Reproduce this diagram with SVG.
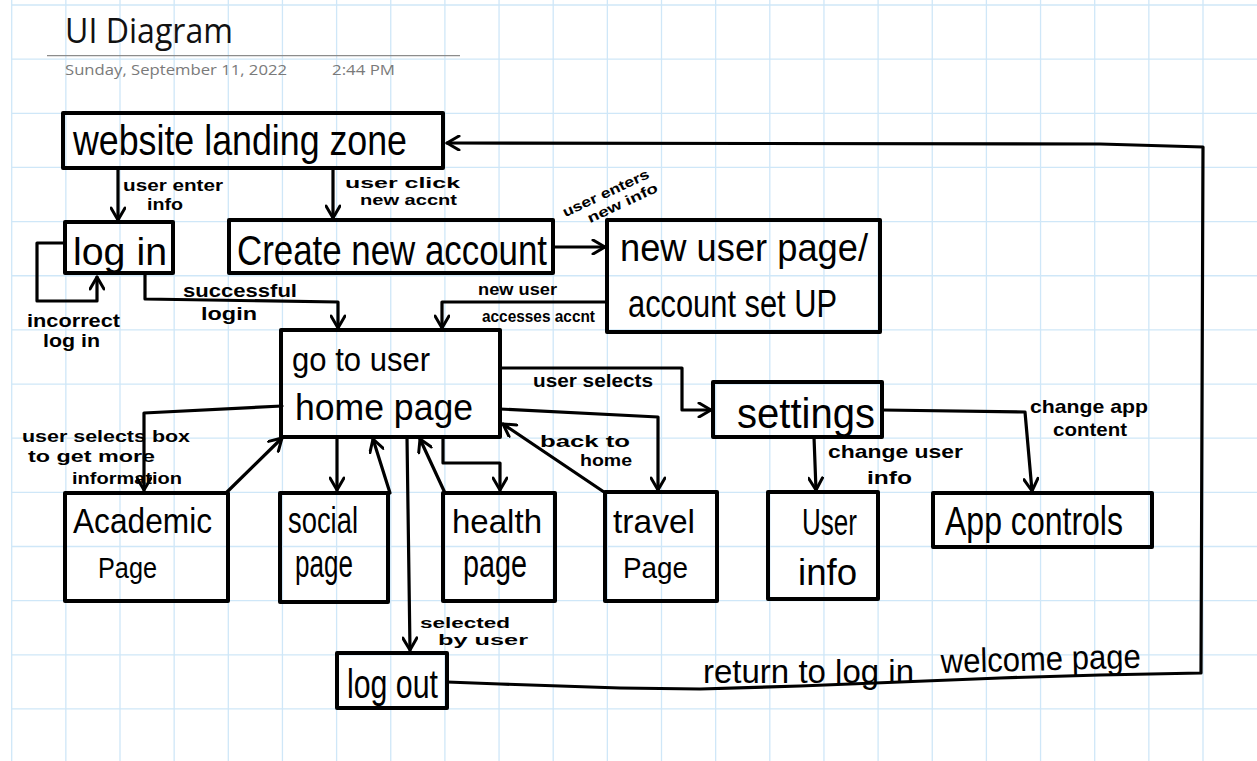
<svg xmlns="http://www.w3.org/2000/svg" width="1257" height="761" viewBox="0 0 1257 761">
<defs>
<style>
.grid{stroke:#cfe7f8;stroke-width:1.3;fill:none}
.box{fill:none;stroke:#000;stroke-width:4;stroke-linejoin:round}
.con{fill:none;stroke:#000;stroke-width:3.2;stroke-linejoin:round;stroke-linecap:round}
.big{font-family:"Liberation Sans",Arial,sans-serif;fill:#000}
.lbl{font-family:"Liberation Sans",Arial,sans-serif;font-weight:bold;fill:#000}
.hdr{font-family:"Open Sans","Liberation Sans",Arial,sans-serif}
</style>
<marker id="arr" viewBox="0 0 16 16" refX="14" refY="8" markerWidth="16" markerHeight="16" markerUnits="userSpaceOnUse" orient="auto">
<path d="M2,1 L14,8 L2,15" fill="none" stroke="#000" stroke-width="3" stroke-linecap="round" stroke-linejoin="round"/>
</marker>
</defs>
<rect width="1257" height="761" fill="#fff"/>
<path class="grid" d="M11.7,0V761M65.85,0V761M120,0V761M174.15,0V761M228.3,0V761M282.45,0V761M336.6,0V761M390.75,0V761M444.9,0V761M499.05,0V761M553.2,0V761M607.35,0V761M661.5,0V761M715.65,0V761M769.8,0V761M823.95,0V761M878.1,0V761M932.25,0V761M986.4,0V761M1040.55,0V761M1094.7,0V761M1148.85,0V761M1203,0V761
M11.7,5H1257M11.7,59.15H1257M11.7,113.3H1257M11.7,167.45H1257M11.7,221.6H1257M11.7,275.75H1257M11.7,329.9H1257M11.7,384.05H1257M11.7,438.2H1257M11.7,492.35H1257M11.7,546.5H1257M11.7,600.65H1257M11.7,654.8H1257M11.7,708.95H1257"/>
<g id="header">
<text class="hdr" x="65" y="43" font-size="34" fill="#111" textLength="168" lengthAdjust="spacingAndGlyphs">UI Diagram</text>
<line x1="47" y1="55.7" x2="460" y2="55.7" stroke="#8c8c8c" stroke-width="1.2"/>
<text class="hdr" x="65" y="75" font-size="14.5" fill="#7a7a7a" textLength="222" lengthAdjust="spacingAndGlyphs">Sunday, September 11, 2022</text>
<text class="hdr" x="332" y="75" font-size="14.5" fill="#7a7a7a" textLength="63" lengthAdjust="spacingAndGlyphs">2:44 PM</text>
</g>
<g id="connectors">
<path class="con" d="M118,168 V220" marker-end="url(#arr)"/>
<path class="con" d="M333,168 V218" marker-end="url(#arr)"/>
<path class="con" d="M553,247 H605" marker-end="url(#arr)"/>
<path class="con" d="M65,243 H37 V301 H97 V277" marker-end="url(#arr)"/>
<path class="con" d="M145,273 V299 L338,302 V328" marker-end="url(#arr)"/>
<path class="con" d="M607,302 H442 V328" marker-end="url(#arr)"/>
<path class="con" d="M500,368 H682 V410 H711" marker-end="url(#arr)"/>
<path class="con" d="M500,409 L658,417 V490" marker-end="url(#arr)"/>
<path class="con" d="M604,492 L503,424" marker-end="url(#arr)"/>
<path class="con" d="M337,437 V490" marker-end="url(#arr)"/>
<path class="con" d="M390,493 L373,439" marker-end="url(#arr)"/>
<path class="con" d="M443,437 V463 H500 V490" marker-end="url(#arr)"/>
<path class="con" d="M445,493 L420,439" marker-end="url(#arr)"/>
<path class="con" d="M407,437 L410,650" marker-end="url(#arr)"/>
<path class="con" d="M282,406 L144,413 V490" marker-end="url(#arr)"/>
<path class="con" d="M227,492 L282,438" marker-end="url(#arr)"/>
<path class="con" d="M814,437 L816,490" marker-end="url(#arr)"/>
<path class="con" d="M882,410 L1025,412 L1032,491" marker-end="url(#arr)"/>
<path class="con" d="M447,682 L500,684 L560,686 L620,688 L700,689 L800,686 L900,682 L1000,678 L1100,675 L1201,673 L1203,147 L1100,144 L447,143" marker-end="url(#arr)"/>
</g>
<g id="labels">
<text class="lbl" x="123" y="191" font-size="16" textLength="100" lengthAdjust="spacingAndGlyphs">user enter</text>
<text class="lbl" x="147" y="210" font-size="16" textLength="36" lengthAdjust="spacingAndGlyphs">info</text>
<text class="lbl" x="345" y="188" font-size="15" textLength="115" lengthAdjust="spacingAndGlyphs">user  click</text>
<text class="lbl" x="360" y="205" font-size="15" textLength="97" lengthAdjust="spacingAndGlyphs">new accnt</text>
<g transform="translate(566,219) rotate(-25)">
<text class="lbl" x="0" y="-2" font-size="14" textLength="94" lengthAdjust="spacingAndGlyphs">user enters</text>
<text class="lbl" x="20" y="14" font-size="14" textLength="76" lengthAdjust="spacingAndGlyphs">new info</text>
</g>
<text class="lbl" x="27" y="327" font-size="17.5" textLength="93" lengthAdjust="spacingAndGlyphs">incorrect</text>
<text class="lbl" x="43" y="347" font-size="17.5" textLength="57" lengthAdjust="spacingAndGlyphs">log in</text>
<text class="lbl" x="183" y="297" font-size="19" textLength="114" lengthAdjust="spacingAndGlyphs">successful</text>
<text class="lbl" x="201" y="320" font-size="19" textLength="56" lengthAdjust="spacingAndGlyphs">login</text>
<text class="lbl" x="478" y="295" font-size="17" textLength="79" lengthAdjust="spacingAndGlyphs">new user</text>
<text class="lbl" x="482" y="322" font-size="17" textLength="113" lengthAdjust="spacingAndGlyphs">accesses accnt</text>
<text class="lbl" x="533" y="387" font-size="19" textLength="120" lengthAdjust="spacingAndGlyphs">user selects</text>
<text class="lbl" x="540" y="447" font-size="16" textLength="90" lengthAdjust="spacingAndGlyphs">back to</text>
<text class="lbl" x="580" y="466" font-size="16" textLength="52" lengthAdjust="spacingAndGlyphs">home</text>
<text class="lbl" x="22" y="442" font-size="17" textLength="168" lengthAdjust="spacingAndGlyphs">user selects box</text>
<text class="lbl" x="28" y="462" font-size="17" textLength="127" lengthAdjust="spacingAndGlyphs">to get more</text>
<text class="lbl" x="72" y="484" font-size="17" textLength="110" lengthAdjust="spacingAndGlyphs">information</text>
<text class="lbl" x="828" y="458" font-size="19" textLength="135" lengthAdjust="spacingAndGlyphs">change user</text>
<text class="lbl" x="867" y="484" font-size="19" textLength="45" lengthAdjust="spacingAndGlyphs">info</text>
<text class="lbl" x="1030" y="413" font-size="19" textLength="118" lengthAdjust="spacingAndGlyphs">change app</text>
<text class="lbl" x="1053" y="436" font-size="19" textLength="74" lengthAdjust="spacingAndGlyphs">content</text>
<text class="lbl" x="420" y="628" font-size="14.5" textLength="90" lengthAdjust="spacingAndGlyphs">selected</text>
<text class="lbl" x="438" y="645" font-size="14.5" textLength="90" lengthAdjust="spacingAndGlyphs">by user</text>
<text class="big" x="703" y="683" font-size="34" textLength="211" lengthAdjust="spacingAndGlyphs">return to log in</text>
<text class="big" x="941" y="673" font-size="34" textLength="200" lengthAdjust="spacingAndGlyphs" transform="rotate(-1.5 941 673)">welcome page</text>
</g>
<g id="landing">
<rect class="box" x="63" y="113" width="380" height="55"/>
<text class="big" x="73" y="155" font-size="42" textLength="334" lengthAdjust="spacingAndGlyphs">website landing zone</text>
</g>
<g id="login">
<rect class="box" x="65" y="222" width="108" height="51"/>
<text class="big" x="73" y="265" font-size="39" textLength="94" lengthAdjust="spacingAndGlyphs">log in</text>
</g>
<g id="create">
<rect class="box" x="229" y="220" width="324" height="53"/>
<text class="big" x="237" y="265" font-size="42" textLength="310" lengthAdjust="spacingAndGlyphs">Create new account</text>
</g>
<g id="newuser">
<rect class="box" x="607" y="220" width="273" height="112"/>
<text class="big" x="620" y="261" font-size="38" textLength="248" lengthAdjust="spacingAndGlyphs">new user page/</text>
<text class="big" x="628" y="317" font-size="38" textLength="209" lengthAdjust="spacingAndGlyphs">account set UP</text>
</g>
<g id="home">
<rect class="box" x="281" y="330" width="219" height="107"/>
<text class="big" x="292" y="371" font-size="34" textLength="138" lengthAdjust="spacingAndGlyphs">go to user</text>
<text class="big" x="295" y="420" font-size="36" textLength="178" lengthAdjust="spacingAndGlyphs">home page</text>
</g>
<g id="settings">
<rect class="box" x="713" y="382" width="169" height="55"/>
<text class="big" x="737" y="428" font-size="42" textLength="138" lengthAdjust="spacingAndGlyphs">settings</text>
</g>
<g id="academic">
<rect class="box" x="65" y="493" width="163" height="108"/>
<text class="big" x="73" y="533" font-size="35" textLength="139" lengthAdjust="spacingAndGlyphs">Academic</text>
<text class="big" x="98" y="578" font-size="30" textLength="59" lengthAdjust="spacingAndGlyphs">Page</text>
</g>
<g id="social">
<rect class="box" x="280" y="493" width="108" height="109"/>
<text class="big" x="288" y="533" font-size="36" textLength="70" lengthAdjust="spacingAndGlyphs">social</text>
<text class="big" x="295" y="577" font-size="38" textLength="58" lengthAdjust="spacingAndGlyphs">page</text>
</g>
<g id="health">
<rect class="box" x="443" y="493" width="112" height="108"/>
<text class="big" x="452" y="533" font-size="34" textLength="90" lengthAdjust="spacingAndGlyphs">health</text>
<text class="big" x="463" y="577" font-size="38" textLength="64" lengthAdjust="spacingAndGlyphs">page</text>
</g>
<g id="travel">
<rect class="box" x="605" y="492" width="112" height="109"/>
<text class="big" x="613" y="533" font-size="34" textLength="82" lengthAdjust="spacingAndGlyphs">travel</text>
<text class="big" x="623" y="578" font-size="30" textLength="65" lengthAdjust="spacingAndGlyphs">Page</text>
</g>
<g id="userinfo">
<rect class="box" x="768" y="492" width="110" height="107"/>
<text class="big" x="802" y="535" font-size="36" textLength="55" lengthAdjust="spacingAndGlyphs">User</text>
<text class="big" x="798" y="585" font-size="36" textLength="59" lengthAdjust="spacingAndGlyphs">info</text>
</g>
<g id="appcontrols">
<rect class="box" x="933" y="493" width="219" height="54"/>
<text class="big" x="945" y="535" font-size="40" textLength="178" lengthAdjust="spacingAndGlyphs">App controls</text>
</g>
<g id="logout">
<rect class="box" x="337" y="653" width="110" height="55"/>
<text class="big" x="347" y="698" font-size="40" textLength="91" lengthAdjust="spacingAndGlyphs">log out</text>
</g>
</svg>
